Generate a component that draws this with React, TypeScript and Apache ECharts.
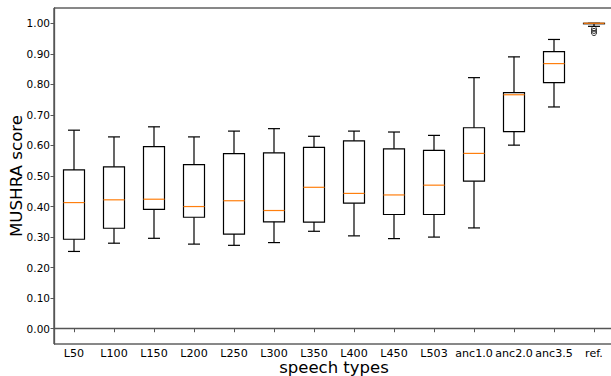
import React, { useEffect, useRef } from "react";
import * as echarts from "echarts";

const categories = ["L50", "L100", "L150", "L200", "L250", "L300", "L350", "L400", "L450", "L503", "anc1.0", "anc2.0", "anc3.5", "ref."];
const whiskerLow = [0.253, 0.28, 0.296, 0.277, 0.273, 0.282, 0.319, 0.304, 0.295, 0.3, 0.33, 0.601, 0.726, 0.99];
const q1 = [0.293, 0.329, 0.391, 0.365, 0.31, 0.35, 0.349, 0.411, 0.374, 0.374, 0.483, 0.645, 0.806, 1.0];
const median = [0.413, 0.422, 0.424, 0.4, 0.419, 0.387, 0.463, 0.443, 0.438, 0.47, 0.574, 0.766, 0.868, 1.0];
const q3 = [0.52, 0.53, 0.596, 0.537, 0.573, 0.576, 0.594, 0.615, 0.589, 0.584, 0.658, 0.773, 0.907, 1.0];
const whiskerHigh = [0.65, 0.628, 0.661, 0.628, 0.647, 0.655, 0.63, 0.647, 0.644, 0.633, 0.822, 0.89, 0.947, 1.0];
const outlierCategory = ["ref.", "ref.", "ref."];
const outlierValues = [0.982, 0.975, 0.968];
const yTicks = [0, 0.1, 0.2, 0.3, 0.4, 0.5, 0.6, 0.7, 0.8, 0.9, 1.0];

const FONT = "DejaVu Sans";

export default function App() {
  const ref = useRef<HTMLDivElement>(null);
  useEffect(() => {
    if (!ref.current) return;
    const chart = echarts.init(ref.current, undefined, { renderer: "svg" });
    const boxData = categories.map((_, i) => [i, whiskerLow[i], q1[i], median[i], q3[i], whiskerHigh[i]]);
    const outliers = outlierCategory.map((c, i) => [categories.indexOf(c), outlierValues[i]]);
    chart.setOption({
      animation: false,
      backgroundColor: "#fff",
      grid: {
        left: 54,
        top: 8,
        width: 560,
        height: 336,
        containLabel: false,
        outerBoundsMode: "none",
        show: true,
        borderColor: "#111",
        borderWidth: 1,
      },
      xAxis: {
        type: "category",
        data: categories,
        boundaryGap: true,
        name: "speech types",
        nameLocation: "middle",
        nameGap: 15,
        nameMoveOverlap: false,
        nameTextStyle: { fontFamily: FONT, fontSize: 16.5, lineHeight: 17, color: "#000" },
        axisLine: { show: true, lineStyle: { color: "#555", width: 1.3 } },
        axisTick: { show: true, alignWithLabel: true, length: 3.5, lineStyle: { color: "#555" } },
        axisLabel: { fontFamily: FONT, fontSize: 11.1, lineHeight: 11, color: "#000", margin: 3.5, interval: 0 },
        splitLine: { show: false },
      },
      yAxis: {
        type: "value",
        min: -0.05,
        max: 1.05,
        name: "MUSHRA score",
        nameLocation: "middle",
        nameGap: 30,
        nameMoveOverlap: false,
        nameTextStyle: { fontFamily: FONT, fontSize: 16.7, color: "#000" },
        axisLine: { show: true, lineStyle: { color: "#555", width: 1.3 } },
        axisTick: { show: true, length: 3.5, customValues: yTicks, lineStyle: { color: "#555" } },
        axisLabel: {
          fontFamily: FONT,
          fontSize: 10.5,
          color: "#000",
          margin: 4,
          customValues: yTicks,
          formatter: (v: number) => v.toFixed(2),
        },
        splitLine: { show: false },
      },
      series: [
        {
          type: "custom",
          data: boxData,
          encode: { x: 0, y: [1, 2, 3, 4, 5] },
          renderItem: (params: any, api: any) => {
            const x = api.value(0);
            const lo = api.coord([x, api.value(1)]);
            const b1 = api.coord([x, api.value(2)]);
            const md = api.coord([x, api.value(3)]);
            const b3 = api.coord([x, api.value(4)]);
            const hi = api.coord([x, api.value(5)]);
            const band = api.size([1, 0])[0];
            const bw = band * 0.525;
            const cw = band * 0.3;
            const cx = lo[0];
            const st = { stroke: "#000", lineWidth: 1.2, fill: "none" };
            return {
              type: "group",
              children: [
                { type: "line", shape: { x1: cx, y1: hi[1], x2: cx, y2: b3[1] }, style: st },
                { type: "line", shape: { x1: cx, y1: b1[1], x2: cx, y2: lo[1] }, style: st },
                { type: "line", shape: { x1: cx - cw / 2, y1: hi[1], x2: cx + cw / 2, y2: hi[1] }, style: st },
                { type: "line", shape: { x1: cx - cw / 2, y1: lo[1], x2: cx + cw / 2, y2: lo[1] }, style: st },
                {
                  type: "rect",
                  shape: { x: cx - bw / 2, y: b3[1], width: bw, height: Math.max(b1[1] - b3[1], 0.5) },
                  style: st,
                },
                {
                  type: "line",
                  shape: { x1: cx - bw / 2, y1: md[1], x2: cx + bw / 2, y2: md[1] },
                  style: { stroke: "#ff7f0e", lineWidth: 1.2 },
                },
              ],
            };
          },
          z: 3,
        },
        {
          type: "scatter",
          data: outliers,
          symbol: "circle",
          symbolSize: 5,
          itemStyle: { color: "transparent", borderColor: "#000", borderWidth: 1 },
          z: 4,
        },
      ],
    });
    return () => chart.dispose();
  }, []);
  return (
    <div
      ref={ref}
      style={{ position: "fixed", left: 0, top: 0, width: 611, height: 376, background: "#fff" }}
    />
  );
}
